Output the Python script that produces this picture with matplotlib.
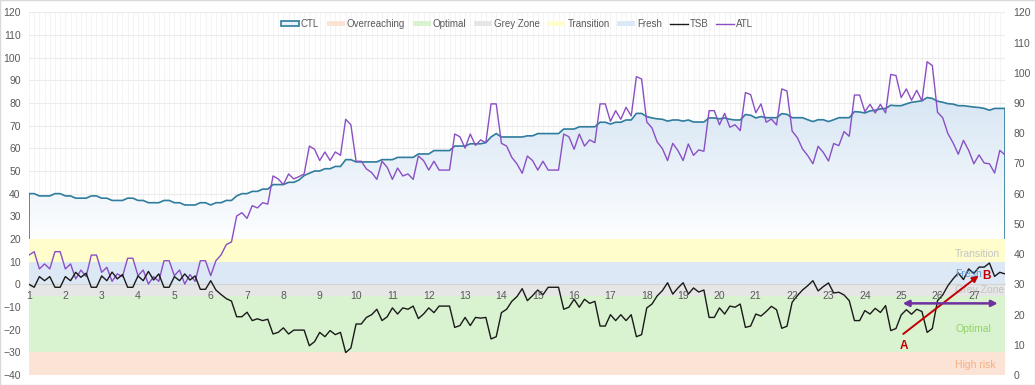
import numpy as np
import matplotlib
matplotlib.use('Agg')
from matplotlib import pyplot as plt
from matplotlib.patches import Polygon, Patch, Rectangle
from matplotlib.lines import Line2D
from matplotlib.colors import LinearSegmentedColormap

plt.rcParams['font.family'] = ['Liberation Sans Narrow', 'Liberation Sans', 'DejaVu Sans']

# daily values, 27 weeks (left axis units)
ctl = [40, 40, 39, 39, 39, 40, 40, 39, 39, 38,
       38, 38, 39, 39, 38, 38, 37, 37, 37, 38,
       38, 37, 37, 36, 36, 36, 37, 37, 36, 36,
       35, 35, 35, 36, 36, 35, 36, 36, 37, 37,
       39, 40, 40, 41, 41, 42, 42, 44, 44, 44,
       45, 45, 46, 48, 49, 50, 50, 51, 51, 52,
       52, 55, 55, 54, 54, 54, 54, 54, 55, 55,
       55, 56, 56, 56, 56, 57.5, 57.5, 57.5, 59, 59,
       59, 59, 61, 61, 61, 62, 62, 62, 62.5, 65,
       66.5, 65, 65, 65, 65, 65, 65.5, 65.5, 66.5, 66.5,
       66.5, 66.5, 66.5, 68.5, 68.5, 68.5, 69.5, 69.5, 69.5, 69.5,
       71.5, 71.5, 70.7, 71.5, 71.5, 72.5, 72.5, 75.4, 75.4, 74,
       73.4, 73, 72.8, 72, 72.5, 72.5, 72, 72.5, 71.6, 71.6,
       71.6, 73.4, 73.4, 73, 73.4, 72.8, 72.5, 72.5, 74.9, 74.6,
       73.4, 74, 73.5, 73.5, 73.5, 75.3, 75, 73.5, 73.5, 73.5,
       72.6, 71.8, 72.6, 72.6, 71.8, 72.6, 73.5, 73.5, 73.5, 76.2,
       76, 75.6, 76.5, 76.8, 77.4, 77.6, 79, 78.8, 78.8, 79.6,
       80.3, 80.6, 81, 82.4, 82, 80.8, 80.3, 79.7, 79.5, 78.8,
       78.8, 78.5, 78.2, 78, 77.6, 76.8, 77.6, 77.6, 77.6]

atl = [12.9, 14.4, 6.8, 9, 6.8, 14.4, 14.4, 6.8, 9, 2.4,
       6.3, 3.4, 12.9, 12.9, 5.3, 7.5, 1.3, 4.6, 3.4, 11.5,
       11.5, 3.8, 6.3, 0.1, 3.4, 1.3, 10.4, 10.4, 3.8, 6.3,
       0.1, 4.3, 1.3, 10.4, 10.4, 3.8, 10.4, 13, 17.5, 18.7,
       30.1, 31.6, 29.1, 34.7, 33.7, 36, 35.4, 47.8, 46.5, 44,
       48.7, 46.5, 47.5, 48.7, 61, 59.6, 54.6, 58.4, 54.6, 58.4,
       56.9, 72.8, 70.4, 54.3, 54.3, 50.9, 49.3, 46.3, 54.3, 51.6,
       46.3, 51.3, 47.8, 48.7, 46.3, 56.6, 54.6, 50.4, 54.3, 50.4,
       50.4, 50.4, 66.3, 65.1, 60.1, 66.3, 61.3, 63.7, 62.5, 79.6,
       79.6, 62.2, 61, 56, 53.1, 49, 56.6, 54.6, 50.4, 54.3,
       50.4, 50.4, 50.4, 66.3, 65.1, 59.6, 66.3, 61, 63.7, 62.5,
       79.6, 79.6, 71.9, 76.6, 72.8, 78.1, 74.3, 91.6, 90.6, 71.6,
       69, 62.8, 59.9, 54.6, 62.2, 59, 54.6, 61.9, 56.9, 59.3,
       58.7, 76.6, 76.6, 70.4, 75.4, 69.3, 70.4, 67.8, 84.6, 83.7,
       75.7, 79.6, 71.5, 72.9, 70.3, 86.2, 85.3, 67.6, 64.7, 59.7,
       56.8, 53.2, 60.9, 58.2, 54.4, 62.1, 61.2, 67.4, 65.3, 83.5,
       83.5, 76.2, 79.4, 75.6, 79.4, 75.6, 92.6, 92.1, 82.4, 86.2,
       81.2, 85.6, 80.9, 98.2, 96.5, 75.9, 73.5, 66.5, 62.4, 57.4,
       63.5, 59.1, 53.2, 57.1, 53.5, 53.2, 49.1, 59.1, 57.1]

tsb = [0, -1.3, 3.4, 1.6, 3.4, -1.3, -1.3, 3.4, 1.6, 5.3,
       3.1, 4.9, -1.3, -1.3, 3.7, 1.6, 5.4, 2.4, 4.3, -1.3,
       -1.3, 3.7, 1.6, 5.7, 1.9, 4.6, -1.3, -1.3, 3.4, 1.6,
       4.6, 1.9, 3.7, -2.2, -2.2, 1.6, -2.5, -4.5, -6.3, -7.4,
       -14.3, -14.3, -12.3, -16, -15.2, -16, -15.4, -21.9, -21.2, -19.2,
       -21.9, -20.2, -20.2, -20.2, -27.1, -25.3, -21.2, -23.1, -20.4, -22.2,
       -21.2, -30.1, -28.1, -17.5, -17.5, -14.6, -13.4, -11, -16, -14.3,
       -10.4, -13.1, -10.4, -11, -9.6, -15.1, -13.1, -10.4, -12.5, -9.6,
       -9.6, -9.6, -19, -18.2, -14.6, -18.2, -14.6, -14.9, -14.6, -24.1,
       -23.1, -12.5, -11, -7.5, -5.4, -1.9, -7.2, -5, -2.5, -4.6,
       -1.3, -1.3, -1.3, -11, -10.1, -6.6, -10.1, -6.6, -8.4, -7.5,
       -18.4, -18.4, -13.4, -16, -13.4, -16, -13.4, -23.1, -22.2, -10.4,
       -8.7, -5.1, -2.8, 0.7, -4.3, -1.6, 0.7, -4.3, -1.6, -3.4,
       -2.5, -14.6, -14.6, -10.4, -13.1, -9.6, -10.1, -8.7, -19, -18.4,
       -13.1, -14, -12, -9.7, -11.2, -19.4, -18.5, -7.9, -5, -2.5,
       -0.6, 1.6, -2.9, -1, 0.6, -3.8, -3.5, -4.7, -7.2, -16,
       -16, -11.6, -13.1, -10.6, -12.4, -9.4, -20.4, -19.5, -13.5, -11.2,
       -13.2, -11, -12, -21.2, -19.5, -7.2, -4.7, -0.6, 2.4, 5,
       2.1, 6.8, 4.8, 7.6, 7.6, 9.4, 3.5, 5.3, 4.6]

week_labels = [str(w) for w in range(1, 28)]

# TSB zones: name, lower, upper
zone_names = ['Overreaching', 'Optimal', 'Grey Zone', 'Fresh', 'Transition']
zone_low = [-40, -30, -5, 0, 10]
zone_high = [-30, -5, 0, 10, 20]
zone_colors = ['#fbe3d6', '#d9f2d0', '#e6e6e6', '#dce8f5', '#fefdcb']

# text labels on the zones
zone_text = ['Transition', 'Fresh', 'Grey Zone', 'Optimal', 'High risk']
zone_text_y = [13.5, 4.6, -2.4, -19.5, -35.5]
zone_text_colors = ['#c4c4c4', '#5b9bd5', '#c4c4c4', '#92d468', '#f4b183']

# annotation points (day index, TSB value)
arrow_a = (168.4, -21.9)
arrow_b = (182.9, 3.8)
span_start = (168.3, -8.4)
span_end = (186.6, -8.4)

days = np.arange(len(ctl))
last = days[-1]

fig = plt.figure(figsize=(10.35, 3.85), dpi=100)
ax = fig.add_axes([29 / 1035, 10 / 385, 976 / 1035, 362.7 / 385])

# gridlines by hand so the zones can cover them
for y in range(-40, 121, 10):
    ax.axhline(y, color='#ececec', lw=0.8, zorder=0.5)
for d in days:
    ax.axvline(d, color='#f3f3f3', lw=0.6, zorder=0.4)

# CTL area with gradient
verts = [(0, -40)] + list(zip(days, ctl)) + [(last, -40)]
poly = Polygon(verts, closed=True, facecolor='none', edgecolor='none')
ax.add_patch(poly)
grad = np.linspace(0, 1, 256).reshape(-1, 1)
cmap = LinearSegmentedColormap.from_list('ctl', ['#fdfeff', '#d6e5f3'])
im = ax.imshow(grad, cmap=cmap, aspect='auto', origin='lower',
               extent=[0, last, 20, 84], zorder=1)
im.set_clip_path(poly)
ax.plot([0] + list(days) + [last], [-40] + ctl + [-40], color='#2f7c9c', lw=1.2, zorder=2)

# zones
for name, lo, hi, col in zip(zone_names, zone_low, zone_high, zone_colors):
    ax.fill_between(days, lo, hi, color=col, lw=0, zorder=3)

ax.plot(days, atl, color='#8a4fc4', lw=1.0, zorder=4)
ax.plot(days, tsb, color='#1a1a1a', lw=1.0, zorder=5)

for txt, y, col in zip(zone_text, zone_text_y, zone_text_colors):
    ax.text(178.4, y, txt, color=col, fontsize=7.5, va='center', ha='left', zorder=6)

# arrows
ax.annotate('', xy=arrow_b, xytext=arrow_a, zorder=7,
            arrowprops=dict(arrowstyle='-|>', color='#c00000', lw=1.4, mutation_scale=9,
                            shrinkA=0, shrinkB=0))
ax.annotate('', xy=span_end, xytext=span_start, zorder=7,
            arrowprops=dict(arrowstyle='<|-|>', color='#7030a0', lw=1.8, mutation_scale=9,
                            shrinkA=0, shrinkB=0))
ax.text(arrow_a[0] + 0.2, arrow_a[1] - 5.4, 'A', color='#c00000', fontsize=8.5,
        fontweight='bold', ha='center', va='center', zorder=7)
ax.text(arrow_b[0] + 1.6, arrow_b[1] - 0.3, 'B', color='#c00000', fontsize=8.5,
        fontweight='bold', ha='center', va='center', zorder=7)

ax.set_xlim(0, last)
ax.set_ylim(-40, 120)
ax.set_yticks(range(-40, 121, 10))
ax.set_xticks(days[::7])
ax.set_xticklabels(week_labels)

for s in ['top', 'right', 'left']:
    ax.spines[s].set_visible(False)
ax.spines['bottom'].set_position(('data', 0))
ax.spines['bottom'].set_color('#d4d4d4')
ax.spines['bottom'].set_zorder(3.5)
ax.xaxis.set_zorder(6)
ax.tick_params(axis='both', length=0, colors='#595959', labelsize=7.5)
ax.tick_params(axis='x', pad=5)
ax.tick_params(axis='y', pad=6)

sec = ax.secondary_yaxis('right', functions=(lambda v: 0.75 * (v + 40),
                                              lambda r: r / 0.75 - 40))
sec.set_yticks(range(0, 121, 10))
sec.spines['right'].set_visible(False)
sec.tick_params(length=0, colors='#595959', labelsize=7.5, pad=6)

handles = [Patch(facecolor='#e9f1f9', edgecolor='#2f7c9c', lw=1.2, label='CTL')]
handles += [Patch(facecolor=c, edgecolor='none', label=n)
            for n, c in zip(['Overreaching', 'Optimal', 'Grey Zone', 'Transition', 'Fresh'],
                            ['#fbe3d6', '#d9f2d0', '#e6e6e6', '#fefdcb', '#dce8f5'])]
handles += [Line2D([], [], color='#1a1a1a', lw=1.0, label='TSB'),
            Line2D([], [], color='#8a4fc4', lw=1.0, label='ATL')]
leg = ax.legend(handles=handles, loc='center', bbox_to_anchor=(0.5, 0.968), ncol=8,
                frameon=False, fontsize=7, handlelength=1.85, handleheight=0.5,
                columnspacing=0.8, handletextpad=0.2)
for t in leg.get_texts():
    t.set_color('#595959')

fig.patches.append(Rectangle((0, 0), 1, 1, transform=fig.transFigure, fill=False,
                             edgecolor='#d9d9d9', lw=1))

fig.savefig('out.png', dpi=100)
